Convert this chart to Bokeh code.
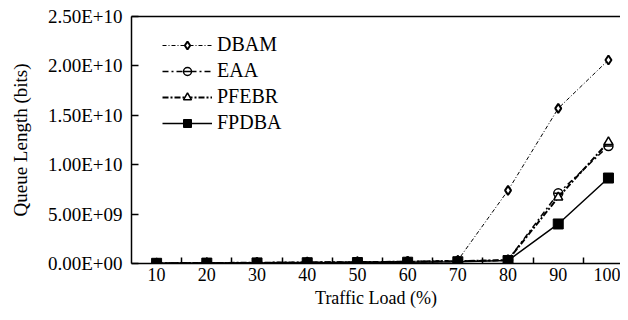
from bokeh.plotting import figure
from bokeh.models import (Range1d, FixedTicker, LinearAxis, Legend, LegendItem,
                          ColumnDataSource)
from bokeh.embed import file_html
from bokeh.resources import INLINE

# ---- data ----
loads = [10, 20, 30, 40, 50, 60, 70, 80, 90, 100]
load_labels = ["10", "20", "30", "40", "50", "60", "70", "80", "90", "100"]
dbam = [0.5e8, 0.7e8, 1.0e8, 1.3e8, 1.7e8, 2.2e8, 3.2e8, 7.4e9, 1.57e10, 2.06e10]
eaa = [0.3e8, 0.5e8, 0.8e8, 1.1e8, 1.4e8, 1.8e8, 2.4e8, 3.5e8, 7.1e9, 1.19e10]
pfebr = [0.3e8, 0.5e8, 0.8e8, 1.1e8, 1.4e8, 1.8e8, 2.4e8, 3.5e8, 6.7e9, 1.23e10]
fpdba = [0.2e8, 0.4e8, 0.6e8, 0.8e8, 1.0e8, 1.3e8, 1.8e8, 3.0e8, 4.0e9, 8.65e9]
y_ticks = [0, 5e9, 1e10, 1.5e10, 2e10, 2.5e10]
y_tick_labels = ["0.00E+00", "5.00E+09", "1.00E+10", "1.50E+10", "2.00E+10", "2.50E+10"]
series_names = ["DBAM", "EAA", "PFEBR", "FPDBA"]

FONT = "Liberation Serif"

p = figure(width=620, height=312, output_backend="svg", toolbar_location=None,
           x_range=Range1d(5, 102.4), y_range=Range1d(0, 2.5e10),
           min_border_left=131, min_border_right=0, min_border_top=16,
           min_border_bottom=49)
p.outline_line_color = None
p.xgrid.visible = False
p.ygrid.visible = False
p.background_fill_color = "white"

src = ColumnDataSource(dict(x=loads, dbam=dbam, eaa=eaa, pfebr=pfebr, fpdba=fpdba))

# DBAM
l1 = p.line("x", "dbam", source=src, line_color="black", line_width=1, line_dash="4 2 1 2")
m1 = p.scatter("x", "dbam", source=src, marker="diamond", size=9, fill_color="white",
               line_color="black", line_width=2)
# EAA
l2 = p.line("x", "eaa", source=src, line_color="black", line_width=1.5, line_dash="6 3 2 3")
m2 = p.scatter("x", "eaa", source=src, marker="circle", size=9, fill_color="white",
               line_color="black", line_width=1.5)
m2b = p.scatter("x", "eaa", source=src, marker="dash", size=8, line_color="black", line_width=1.5)
# PFEBR
l3 = p.line("x", "pfebr", source=src, line_color="black", line_width=2, line_dash="6 2 2 2")
m3 = p.scatter("x", "pfebr", source=src, marker="triangle", size=9, fill_color="white",
               line_color="black", line_width=1.5)
# FPDBA
l4 = p.line("x", "fpdba", source=src, line_color="black", line_width=1.5)
m4 = p.scatter("x", "fpdba", source=src, marker="square", size=10, fill_color="black",
               line_color="black")

# x axis: labels at categories, ticks between them
xa = p.xaxis[0]
xa.ticker = FixedTicker(ticks=loads, minor_ticks=[v + 5 for v in loads[:-1]])
xa.major_label_overrides = {v: s for v, s in zip(loads, load_labels)}
xa.major_tick_in = 0
xa.major_tick_out = 0
xa.minor_tick_in = 6
xa.minor_tick_out = 0
xa.minor_tick_line_color = "black"
xa.minor_tick_line_width = 1.5
xa.axis_line_width = 1.5
xa.axis_line_color = "black"
xa.major_label_text_font = FONT
xa.major_label_text_font_size = "18px"
xa.major_label_text_color = "black"
xa.major_label_standoff = 4
xa.axis_label = "Traffic Load (%)"
xa.axis_label_text_font = FONT
xa.axis_label_text_font_style = "normal"
xa.axis_label_text_font_size = "18px"
xa.axis_label_text_color = "black"
xa.axis_label_standoff = 4

ya = p.yaxis[0]
ya.ticker = FixedTicker(ticks=y_ticks, minor_ticks=[])
ya.major_label_overrides = {v: s for v, s in zip(y_ticks, y_tick_labels)}
ya.major_tick_in = 7
ya.major_tick_out = 0
ya.major_tick_line_width = 1.5
ya.axis_line_width = 1.5
ya.axis_line_color = "black"
ya.major_label_text_font = FONT
ya.major_label_text_font_size = "19px"
ya.major_label_text_color = "black"
ya.major_label_standoff = 9
ya.axis_label = "Queue Length (bits)"
ya.axis_label_text_font = FONT
ya.axis_label_text_font_style = "normal"
ya.axis_label_text_font_size = "19px"
ya.axis_label_text_color = "black"
ya.axis_label_standoff = 14

# top border line
top = LinearAxis(ticker=FixedTicker(ticks=[]), axis_line_width=1.5, axis_line_color="black",
                 major_tick_out=0, major_tick_in=0, minor_tick_out=0, minor_tick_in=0,
                 major_label_text_font_size="0px")
p.add_layout(top, "above")

legend = Legend(items=[
    LegendItem(label=series_names[0], renderers=[l1, m1]),
    LegendItem(label=series_names[1], renderers=[l2, m2, m2b]),
    LegendItem(label=series_names[2], renderers=[l3, m3]),
    LegendItem(label=series_names[3], renderers=[l4, m4]),
], location=(31, 129), orientation="vertical")
legend.background_fill_alpha = 0
legend.border_line_color = None
legend.padding = 0
legend.margin = 0
legend.spacing = 3
legend.glyph_width = 50
legend.glyph_height = 20
legend.label_height = 20
legend.label_standoff = 5
legend.label_text_font = FONT
legend.label_text_font_size = "20px"
legend.label_text_color = "black"
p.add_layout(legend, "center")

open("out.html", "w").write(file_html(p, INLINE))
